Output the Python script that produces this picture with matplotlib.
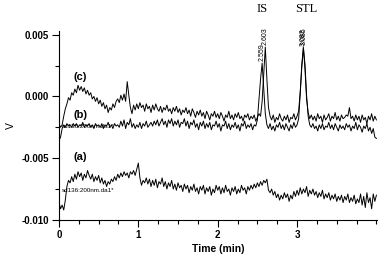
import numpy as np
import matplotlib
matplotlib.use("Agg")
import matplotlib.pyplot as plt
from matplotlib.ticker import MultipleLocator, FixedLocator, FixedFormatter

plt.rcParams['font.family'] = ['Liberation Sans', 'DejaVu Sans']
plt.rcParams['axes.unicode_minus'] = False

# detector signal in mV, sampled every 0.02 min from 0 to 4.0 min
trace_c = [
    -2.2, -2.5, -2.3, -1.6, -1.0, -0.6, -0.1, -0.3, 0.3, 0.1,
    0.6, 0.3, 0.9, 0.5, 0.8, 0.4, 0.7, 0.2, 0.5, 0.1,
    0.3, -0.2, 0.0, -0.4, -0.1, -0.6, -0.3, -0.8, -0.5, -1.0,
    -0.7, -1.3, -0.9, -1.1, -0.6, -0.9, -0.4, -0.2, -0.5, 0.1,
    -0.3, 0.2, -0.4, 1.2, 0.1, -0.9, -1.4, -0.7, -1.1, -0.6,
    -1.0, -0.5, -0.9, -0.7, -1.2, -0.6, -1.0, -0.8, -1.3, -0.7,
    -1.1, -0.6, -1.0, -1.2, -0.8, -1.3, -0.9, -1.1, -0.7, -1.2,
    -1.0, -1.4, -0.9, -1.2, -0.8, -1.3, -1.0, -1.5, -1.1, -1.3,
    -0.9, -1.4, -1.1, -1.6, -1.0, -1.3, -1.7, -1.2, -1.5, -1.1,
    -1.6, -1.3, -1.8, -1.2, -1.5, -1.9, -1.4, -1.6, -1.2, -1.7,
    -1.4, -1.8, -1.3, -1.6, -2.0, -1.5, -1.7, -1.2, -1.8, -1.5,
    -1.9, -1.4, -1.7, -1.3, -1.8, -1.6, -2.0, -1.5, -1.7, -1.4,
    -1.9, -1.6, -1.8, -1.5, -2.0, -1.7, -1.4, -1.6, -0.4, 1.8,
    4.0, 1.4, -0.9, -1.6, -1.9, -1.5, -2.1, -1.7, -1.9, -1.4,
    -1.8, -2.0, -1.6, -1.9, -1.5, -2.1, -1.7, -1.8, -1.4, -1.9,
    -1.6, -1.2, 0.4, 2.6, 4.0, 2.2, -0.2, -1.3, -1.8, -1.5,
    -1.9, -1.6, -2.0, -1.4, -1.8, -1.6, -2.1, -1.5, -1.9, -1.7,
    -1.4, -2.0, -1.6, -1.8, -1.3, -1.9, -1.6, -2.0, -1.5, -1.8,
    -1.7, -1.5, -1.6, -0.9, -1.8, -1.6, -2.0, -1.5, -1.9, -1.6,
    -2.1, -1.5, -1.9, -1.7, -2.2, -1.6, -1.9, -1.4, -2.0, -1.6, -1.9,
]

trace_b = [
    -3.6, -3.3, -2.6, -2.3, -2.5, -2.2, -2.4, -2.3, -2.5, -2.2,
    -2.4, -2.2, -2.5, -2.3, -2.4, -2.1, -2.5, -2.3, -2.4, -2.2,
    -2.5, -2.3, -2.6, -2.2, -2.4, -2.3, -2.5, -2.2, -2.6, -2.3,
    -2.4, -2.1, -2.5, -2.3, -2.6, -2.2, -2.4, -2.3, -2.5, -2.0,
    -2.4, -1.9, -2.6, -2.1, -2.3, -1.8, -2.5, -2.2, -2.6, -2.3,
    -2.5, -2.1, -2.6, -2.2, -2.4, -2.0, -2.5, -2.3, -2.1, -2.4,
    -2.0, -2.3, -1.9, -2.4, -2.1, -1.8, -2.3, -2.0, -2.5, -1.9,
    -2.2, -1.8, -2.4, -2.0, -2.3, -1.9, -2.5, -2.1, -2.2, -1.8,
    -2.4, -2.0, -2.6, -2.1, -2.3, -1.9, -2.5, -2.2, -2.7, -2.1,
    -2.4, -2.0, -2.6, -2.2, -2.5, -2.1, -2.7, -2.3, -2.4, -2.0,
    -2.5, -2.2, -2.8, -2.3, -2.4, -2.0, -2.6, -2.2, -2.7, -2.3,
    -2.5, -2.1, -2.6, -2.3, -2.8, -2.2, -2.4, -2.0, -2.6, -2.3,
    -2.5, -2.2, -2.7, -2.3, -2.4, -1.9, -0.3, 1.4, 2.7, 0.6,
    -1.4, -2.3, -2.6, -2.2, -2.7, -2.4, -2.8, -2.3, -2.5, -2.1,
    -2.6, -2.3, -2.7, -2.2, -2.5, -2.8, -2.3, -2.6, -2.1, -2.5,
    -2.3, -1.8, 0.2, 2.4, 3.9, 2.6, 0.1, -1.6, -2.3, -2.5,
    -2.2, -2.6, -2.4, -2.8, -2.3, -2.6, -2.2, -2.7, -2.4, -2.5,
    -2.1, -2.6, -2.3, -2.7, -2.2, -2.5, -2.8, -2.3, -2.6, -2.4,
    -2.7, -2.2, -2.5, -2.3, -2.8, -2.4, -2.6, -2.1, -2.7, -2.3,
    -2.5, -2.9, -2.4, -2.6, -2.2, -2.8, -2.5, -3.0, -2.6, -3.3, -3.4,
]

trace_a = [
    -8.6, -9.1, -8.8, -9.2, -8.4, -7.3, -6.8, -7.0, -6.5, -6.9,
    -6.3, -6.7, -6.1, -6.5, -6.2, -6.8, -6.3, -6.6, -6.0, -6.4,
    -6.7, -6.3, -6.9, -6.5, -6.8, -6.4, -7.0, -6.6, -7.1, -6.8,
    -7.3, -6.9, -7.1, -6.7, -6.9, -6.5, -6.8, -6.3, -6.6, -6.2,
    -6.5, -6.1, -6.4, -6.2, -6.6, -6.1, -6.3, -6.0, -6.4, -5.9,
    -5.4, -6.6, -7.2, -6.8, -7.0, -6.6, -7.1, -6.7, -7.3, -6.8,
    -7.2, -6.7, -7.4, -6.9, -7.1, -6.6, -7.3, -6.9, -7.5, -7.0,
    -7.3, -6.8, -7.5, -7.1, -7.6, -7.0, -7.4, -7.2, -7.7, -7.1,
    -7.5, -7.2, -7.8, -7.3, -7.6, -7.1, -7.7, -7.4, -7.9, -7.3,
    -7.6, -7.2, -7.9, -7.4, -7.7, -7.3, -8.0, -7.5, -7.8, -7.2,
    -7.6, -7.3, -7.9, -7.4, -7.8, -7.2, -7.7, -7.5, -8.0, -7.4,
    -7.7, -7.3, -7.9, -7.5, -7.8, -7.2, -7.6, -7.4, -7.9, -7.3,
    -7.6, -7.2, -7.5, -7.1, -7.4, -7.0, -7.3, -6.9, -7.2, -6.8,
    -7.0, -6.7, -7.6, -7.8, -7.5, -8.0, -7.7, -8.2, -7.9, -8.4,
    -8.0, -8.3, -7.8, -8.2, -7.9, -8.5, -8.0, -8.3, -7.7, -8.1,
    -7.6, -8.0, -7.4, -7.9, -7.5, -7.8, -7.3, -8.1, -7.6, -7.9,
    -7.5, -8.0, -7.7, -8.2, -7.8, -8.1, -7.6, -8.3, -7.9, -8.2,
    -7.8, -8.4, -8.0, -8.3, -7.9, -8.5, -8.1, -8.4, -8.0, -8.6,
    -8.1, -8.4, -7.9, -8.6, -8.2, -8.5, -8.0, -8.7, -8.3, -8.6,
    -7.9, -8.8, -8.1, -9.0, -7.8, -8.6, -8.2, -9.1, -7.9, -8.5, -8.0,
]

peak_times = [2.559, 2.603, 3.082, 3.085]
peak_tops = [2.7, 4.0, 3.9, 4.0]
peak_names = ['IS', 'STL']
peak_name_times = [2.56, 3.12]

fig = plt.figure(figsize=(3.78, 2.63), dpi=100)
ax = fig.add_axes([0.156, 0.164, 0.844, 0.718])

t = np.linspace(0, 4.0, len(trace_c))
for tr in (trace_a, trace_b, trace_c):
    ax.plot(t, np.array(tr) / 1000.0, color='black', lw=0.7)

ax.set_xlim(0, 4.02)
ax.set_ylim(-0.010, 0.0053)

for s in ('top', 'right'):
    ax.spines[s].set_visible(False)

ax.xaxis.set_major_locator(FixedLocator([0, 1, 2, 3]))
ax.xaxis.set_major_formatter(FixedFormatter(['0', '1', '2', '3']))
ax.xaxis.set_minor_locator(MultipleLocator(0.25))
ax.yaxis.set_major_locator(FixedLocator([0.005, 0.0, -0.005, -0.010]))
ax.yaxis.set_major_formatter(FixedFormatter(['0.005', '0.000', '-0.005', '-0.010']))
ax.yaxis.set_minor_locator(MultipleLocator(0.0025))
ax.tick_params(which='major', length=5, width=0.8, labelsize=7, pad=2)
ax.tick_params(which='minor', length=3, width=0.8)
for lab in ax.get_xticklabels() + ax.get_yticklabels():
    lab.set_fontweight('bold')

ax.set_xlabel('Time (min)', fontsize=7.5, fontweight='bold', labelpad=3)
ax.set_ylabel('V', fontsize=7.5, labelpad=4)

ax.text(0.27, 0.0016, '(c)', fontsize=8, fontweight='bold', ha='center', va='center')
ax.text(0.27, -0.0015, '(b)', fontsize=8, fontweight='bold', ha='center', va='center')
ax.text(0.27, -0.0049, '(a)', fontsize=8, fontweight='bold', ha='center', va='center')
ax.text(0.03, -0.0076, 'sd136:200nm.da1*', fontsize=4.5, va='center')
ax.text(0.03, -0.0024, 'sd136:200nm.da1*', fontsize=4.5, va='center')

for pt, top in zip(peak_times, peak_tops):
    ax.text(pt, top / 1000.0 + 0.0002, f'{pt:.3f}', rotation=90, fontsize=5,
            ha='center', va='bottom', clip_on=False)

for name, nt in zip(peak_names, peak_name_times):
    ax.text(nt, 0.0071, name, family='Liberation Serif', fontsize=9,
            ha='center', va='center', clip_on=False)

fig.savefig('out.png', dpi=100)
